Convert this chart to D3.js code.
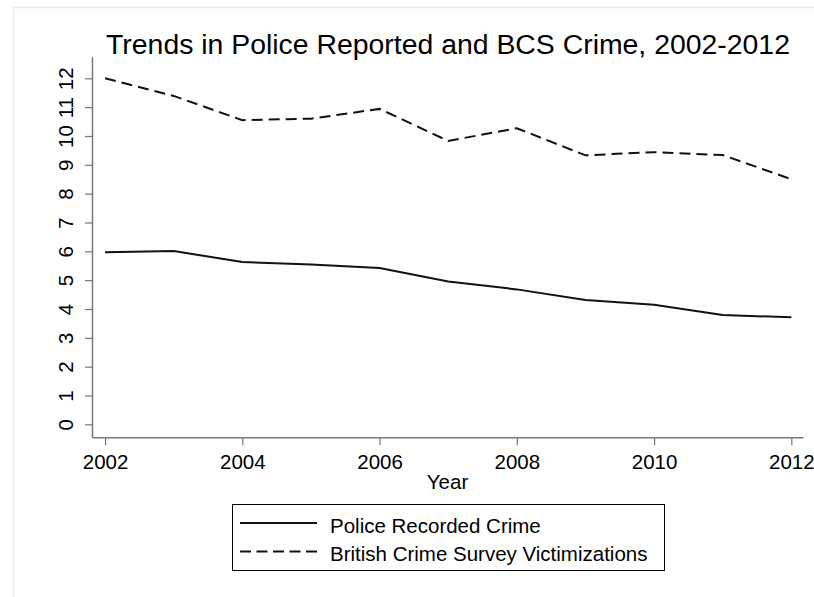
<!doctype html>
<html lang="en">
<head>
  <meta charset="utf-8">
  <style>
    body { margin: 0; background: #fff; }
    svg { display: block; font-family: "Liberation Sans", Arial, sans-serif; }
  </style>
</head>
<body>
<svg width="814" height="597"></svg>
<script src="https://d3js.org/d3.v7.min.js"></script>
<script>

var years = [2002, 2003, 2004, 2005, 2006, 2007, 2008, 2009, 2010, 2011, 2012];
var police = [5.97, 6.01, 5.63, 5.54, 5.42, 4.95, 4.68, 4.31, 4.15, 3.79, 3.71];
var bcs = [12.0, 11.39, 10.55, 10.6, 10.94, 9.83, 10.27, 9.33, 9.44, 9.34, 8.5];
var xTicks = [2002, 2004, 2006, 2008, 2010, 2012];
var yTicks = [0, 1, 2, 3, 4, 5, 6, 7, 8, 9, 10, 11, 12];
var seriesNames = ["Police Recorded Crime", "British Crime Survey Victimizations"];

var svg = d3.select("svg");

// light outer frame
svg.append("rect")
    .attr("x", 13.5).attr("y", 7.5)
    .attr("width", 900).attr("height", 700)
    .attr("fill", "none")
    .attr("stroke", "#e3ebee")
    .attr("stroke-width", 1.5);

var x = d3.scaleLinear().domain([2001.81, 2012.17]).range([92, 803]);
var y = d3.scaleLinear().domain([-0.45, 12.75]).range([437.3, 56.7]);

var axisColor = "#777";

var gx = svg.append("g")
    .attr("transform", "translate(0,437.3)")
    .call(d3.axisBottom(x).tickValues(xTicks).tickFormat(d3.format("d")).tickSize(8).tickSizeOuter(0));

var gy = svg.append("g")
    .attr("transform", "translate(92,0)")
    .call(d3.axisLeft(y).tickValues(yTicks).tickSize(7).tickSizeOuter(0));

[gx, gy].forEach(function(g) {
  g.select(".domain").attr("stroke", axisColor).attr("stroke-width", 1.5);
  g.selectAll(".tick line").attr("stroke", axisColor).attr("stroke-width", 1.2);
  g.selectAll("text").attr("fill", "#000").attr("font-size", "20.5px")
      .attr("font-family", "Liberation Sans, Arial, sans-serif");
});

gx.selectAll(".tick text").attr("y", 0).attr("dy", null)
    .attr("transform", "translate(0,32)");

gy.selectAll(".tick text")
    .attr("x", null).attr("dy", null).attr("text-anchor", "middle")
    .attr("transform", "translate(-19,0) rotate(-90)");

svg.append("text")
    .attr("x", 447.5).attr("y", 489)
    .attr("text-anchor", "middle")
    .attr("font-size", "20.5px")
    .text("Year");

svg.append("text")
    .attr("x", 448).attr("y", 54)
    .attr("text-anchor", "middle")
    .attr("font-size", "28.4px")
    .text("Trends in Police Reported and BCS Crime, 2002-2012");

var line = d3.line()
    .x(function(d, i) { return x(years[i]); })
    .y(function(d) { return y(d); });

var dashes = ["none", "11,6"];

svg.append("path")
    .datum(police)
    .attr("d", line)
    .attr("fill", "none")
    .attr("stroke", "#111")
    .attr("stroke-width", 2);

svg.append("path")
    .datum(bcs)
    .attr("d", line)
    .attr("fill", "none")
    .attr("stroke", "#111")
    .attr("stroke-width", 2)
    .attr("stroke-dasharray", dashes[1]);

// legend
var legend = svg.append("g");
legend.append("rect")
    .attr("x", 232.5).attr("y", 504.5)
    .attr("width", 432).attr("height", 66)
    .attr("fill", "#fff")
    .attr("stroke", "#000")
    .attr("stroke-width", 1);

seriesNames.forEach(function(name, i) {
  var ly = 523 + i * 28.5;
  legend.append("line")
      .attr("x1", 240).attr("x2", 317)
      .attr("y1", ly).attr("y2", ly)
      .attr("stroke", "#111")
      .attr("stroke-width", 2)
      .attr("stroke-dasharray", i ? "11,5.5" : null);
  legend.append("text")
      .attr("x", 330).attr("y", ly + 9.5)
      .attr("font-size", "20.5px")
      .text(name);
});

</script>
</body>
</html>
